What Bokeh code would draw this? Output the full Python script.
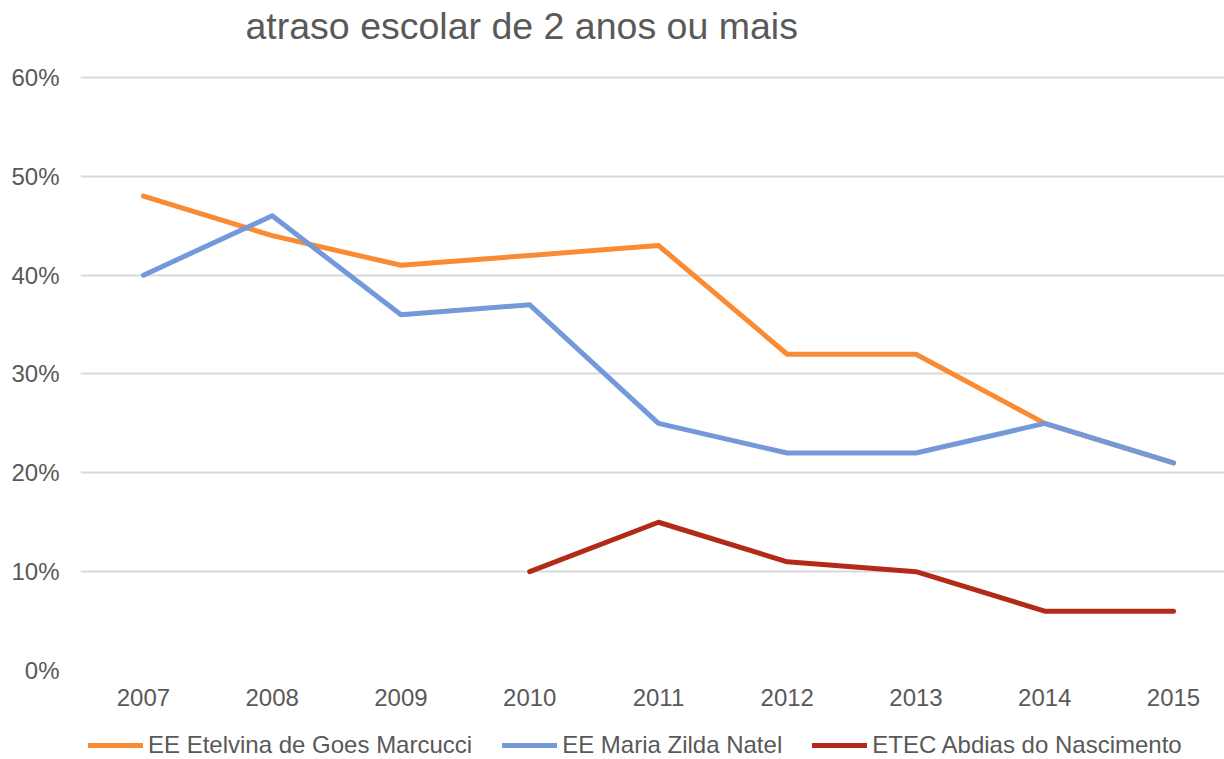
from bokeh.plotting import figure
from bokeh.layouts import column
from bokeh.models import (Legend, LegendItem, NumeralTickFormatter, FixedTicker,
                          Range1d, Label)
from bokeh.embed import file_html
from bokeh.resources import INLINE

title_text = "atraso escolar de 2 anos ou mais"
years = [2007, 2008, 2009, 2010, 2011, 2012, 2013, 2014, 2015]
etelvina = [0.48, 0.44, 0.41, 0.42, 0.43, 0.32, 0.32, 0.25, 0.21]
maria = [0.40, 0.46, 0.36, 0.37, 0.25, 0.22, 0.22, 0.25, 0.21]
etec_years = [2010, 2011, 2012, 2013, 2014, 2015]
etec = [0.10, 0.15, 0.11, 0.10, 0.06, 0.06]
y_ticks = [0.0, 0.1, 0.2, 0.3, 0.4, 0.5, 0.6]
series_names = ["EE Etelvina de Goes Marcucci", "EE Maria Zilda Natel",
                "ETEC Abdias do Nascimento"]
colors = ["#FA8B35", "#7499DA", "#B22B18"]

FONT = "Liberation Sans"
TXT = "#595959"
W = 1224


def strip(height):
    f = figure(width=W, height=height, output_backend="svg", toolbar_location=None,
               x_range=Range1d(0, 1), y_range=Range1d(0, 1),
               min_border_left=0, min_border_right=0, min_border_top=0,
               min_border_bottom=0)
    f.outline_line_color = None
    f.background_fill_color = None
    f.border_fill_color = None
    f.axis.visible = False
    f.grid.visible = False
    return f


# title strip
p0 = strip(60)
p0.add_layout(Label(x=165, y=35, x_units="screen", y_units="screen",
                    text=title_text, text_font=FONT, text_font_size="37.5px",
                    text_color=TXT, text_baseline="alphabetic"))

# main chart
p = figure(width=W, height=655, output_backend="svg", toolbar_location=None,
           x_range=Range1d(2006.511, 2015.396), y_range=Range1d(0, 0.602),
           min_border_left=80, min_border_right=0, min_border_top=15,
           min_border_bottom=45)
p.outline_line_color = None
p.background_fill_color = None
p.border_fill_color = None

series = [(years, etelvina), (years, maria), (etec_years, etec)]
for (xs, ys), c in zip(series, colors):
    p.line(xs, ys, line_color=c, line_width=5, line_cap="round", line_join="round")

p.xaxis.ticker = FixedTicker(ticks=years)
p.yaxis.ticker = FixedTicker(ticks=y_ticks)
p.yaxis.formatter = NumeralTickFormatter(format="0%")
for ax in (p.xaxis[0], p.yaxis[0]):
    ax.axis_line_color = None
    ax.major_tick_line_color = None
    ax.minor_tick_line_color = None
    ax.major_tick_out = 0
    ax.major_tick_in = 0
    ax.minor_tick_out = 0
    ax.major_label_text_font = FONT
    ax.major_label_text_font_size = "24px"
    ax.major_label_text_color = TXT
p.yaxis.major_label_standoff = 21
p.xaxis.major_label_standoff = 18

p.xgrid.grid_line_color = None
p.ygrid.grid_line_color = "#D9D9D9"
p.ygrid.grid_line_width = 2

# legend strip (its lines lie outside its visible range; only the legend shows)
p2 = strip(44)
p2.y_range = Range1d(5, 6)
items = []
for (xs, ys), name, c in zip(series, series_names, colors):
    r = p2.line(xs, ys, line_color=c, line_width=5, line_cap="round")
    items.append(LegendItem(label=name, renderers=[r]))

legend = Legend(items=items, orientation="horizontal", location=(8, 0),
                glyph_width=55, glyph_height=20, label_standoff=5, spacing=30,
                padding=0, margin=0, border_line_color=None,
                background_fill_alpha=0,
                label_text_font=FONT, label_text_font_size="24px",
                label_text_color=TXT)
p2.add_layout(legend, "center")

layout = column(p0, p, p2, spacing=0)
open("out.html", "w").write(file_html(layout, INLINE))
